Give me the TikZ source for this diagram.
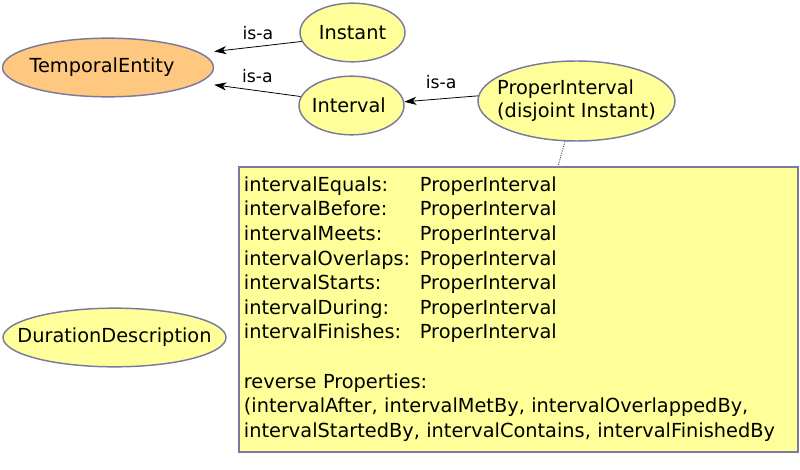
\documentclass[tikz,border=0pt]{standalone}
\usepackage{fontspec}
\setmainfont{DejaVu Sans}
\usepackage{xcolor}
\usepackage{tikz}
\usetikzlibrary{shapes.geometric, arrows.meta}

\definecolor{classfill}{RGB}{255,255,153}
\definecolor{rootfill}{RGB}{255,200,128}
\definecolor{classline}{RGB}{122,122,160}

\newcommand{\fixedlabel}[1]{\makebox[0pt]{#1}}

\tikzset{
  owlclass/.style={ellipse, draw=classline, line width=1.1pt, fill=classfill, inner sep=0pt,
    font=\fontsize{14.5}{17.3}\selectfont},
  isa/.style={-{Stealth[length=9pt, width=6pt, inset=2.5pt]}, line width=0.6pt},
  isalabel/.style={font=\fontsize{13}{15}\selectfont, inner sep=1pt},
  propbox/.style={rectangle, draw=classline, line width=1.4pt, fill=classfill, align=left,
    inner xsep=3.75pt, inner ysep=0pt, font=\fontsize{14.5}{18.45}\selectfont},
}

\begin{document}
\begin{tikzpicture}[x=0.75pt,y=0.75pt,yscale=-1,xscale=1]
    \useasboundingbox (0,0) rectangle (800,470);

    % Classes
    \node [owlclass, fill=rootfill, minimum width=158.25pt, minimum height=44pt] (temporal) at (108,67.5) {\fixedlabel{\hspace{-9pt}TemporalEntity}};
    \node [owlclass, minimum width=78.75pt, minimum height=44pt] (instant) at (352.5,32.5) {\fixedlabel{Instant}};
    \node [owlclass, minimum width=78.75pt, minimum height=44pt] (interval) at (351.5,105.5) {\fixedlabel{\hspace{-4pt}Interval}};
    \node [owlclass, minimum width=147.75pt, minimum height=60pt] (proper) at (576.5,101)
      {\fixedlabel{\begin{tabular}{@{}l@{}}ProperInterval\\(disjoint Instant)\end{tabular}}};
    \node [owlclass, minimum width=167.25pt, minimum height=44pt] (duration) at (114.5,337.5) {\fixedlabel{DurationDescription}};

    % Properties box
    \node [propbox, text width=411.75pt, minimum height=213.75pt, anchor=north west] (props) at (238,166)
      {\begin{tabular}{@{}l@{\hspace{0.5em}}l@{}}
       intervalEquals: & ProperInterval\\
       intervalBefore: & ProperInterval\\
       intervalMeets: & ProperInterval\\
       intervalOverlaps: & ProperInterval\\
       intervalStarts: & ProperInterval\\
       intervalDuring: & ProperInterval\\
       intervalFinishes: & ProperInterval\\
       & \\
       \multicolumn{2}{@{}l@{}}{reverse Properties:}\\
       \multicolumn{2}{@{}l@{}}{(intervalAfter, intervalMetBy, intervalOverlappedBy,}\\
       \multicolumn{2}{@{}l@{}}{intervalStartedBy, intervalContains, intervalFinishedBy}
       \end{tabular}};

    % is-a links
    \draw [isa] (instant.190) -- node [isalabel, midway, above=4pt] {is-a} ([yshift=-12pt]temporal.east);
    \draw [isa] (interval.170) -- node [isalabel, midway, above=5pt] {is-a} ([yshift=13pt]temporal.east);
    \draw [isa] (proper.177) -- node [isalabel, midway, above=6.5pt] {is-a} (interval.4);

    % note link
    \draw [densely dotted, black!70, line width=0.75pt] (proper.254) -- (props);
\end{tikzpicture}
\end{document}
